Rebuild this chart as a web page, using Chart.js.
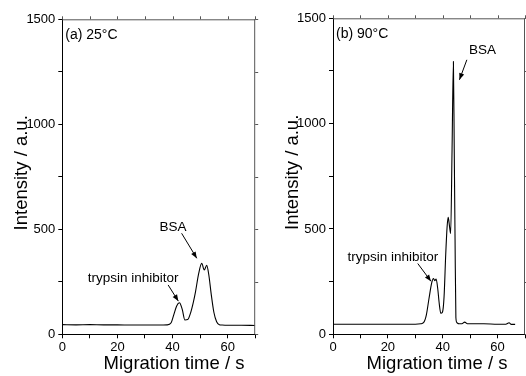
<!DOCTYPE html>
<html>
<head>
<meta charset="utf-8">
<script src="https://cdn.jsdelivr.net/npm/chart.js@4/dist/chart.umd.min.js"></script>
<style>
html,body{margin:0;padding:0;background:#fff;}
#wrap{position:relative;width:526px;height:376px;overflow:hidden;}
.c{position:absolute;top:0;width:263px;height:376px;}
#c1{left:0;} #c2{left:263px;}
</style>
</head>
<body>
<div id="wrap">
<div class="c" id="c1"><canvas id="cv1" width="263" height="376"></canvas></div>
<div class="c" id="c2"><canvas id="cv2" width="263" height="376"></canvas></div>
</div>
<script>
// ---- data ----
const time25 = [0, 5, 10, 15, 20, 25, 30, 35, 38, 39.5, 40.5, 41.5, 42.5, 43.5, 44.5, 45.5, 46.5, 47.5, 48.3, 49.5, 50.6, 51.5, 52.4, 53.2, 54, 55, 56, 57, 58, 60, 65, 70];
const int25  = [46, 45, 46, 45, 45, 44, 44, 44, 45, 55, 95, 135, 150, 120, 68, 70, 100, 150, 200, 290, 338, 306, 328, 280, 195, 105, 60, 46, 44, 43, 43, 42];

const time90 = [0, 5, 10, 15, 20, 25, 30, 32, 33, 34, 35, 36, 36.6, 37.1, 37.6, 38.2, 38.7, 39.3, 39.9, 40.5, 41.1, 41.6, 42.0, 42.5, 42.9, 43.4, 43.9, 44.2, 44.5, 44.8, 45.2, 46, 47, 48, 49, 50, 55, 60, 63, 64.2, 65, 66.4];
const int90  = [48, 48, 48, 48, 48, 48, 48, 50, 55, 90, 170, 245, 265, 255, 262, 215, 150, 100, 105, 180, 380, 510, 555, 510, 478, 870, 1295, 880, 450, 80, 55, 50, 50, 58, 50, 50, 50, 48, 48, 55, 47, 47];

const xTicks = [0, 20, 40, 60];
const yTicks = [0, 500, 1000, 1500];
const xTitle = 'Migration time / s';
const yTitle = 'Intensity / a.u.';

const FONT = '"Liberation Sans", Arial, sans-serif';

function framePlugin(opts){
  return {
    id:'frame'+opts.id,
    afterDraw(chart){
      const ctx = chart.ctx, a = chart.chartArea;
      const xs = chart.scales.x, ys = chart.scales.y;
      ctx.save();
      ctx.strokeStyle = '#555';
      ctx.lineWidth = 1;
      ctx.beginPath();
      ctx.moveTo(a.left, a.top+0.5); ctx.lineTo(a.right, a.top+0.5);
      ctx.moveTo(a.right-0.5, a.top); ctx.lineTo(a.right-0.5, a.bottom);
      ctx.stroke();
      ctx.beginPath();
      for (let v=0; v<=70; v+=10){
        const px = Math.round(xs.getPixelForValue(v))+0.5;
        ctx.moveTo(px, a.top); ctx.lineTo(px, a.top-3);
      }
      for (let v=0; v<=1500; v+=250){
        const py = Math.round(ys.getPixelForValue(v))+0.5;
        ctx.moveTo(a.right, py); ctx.lineTo(a.right+3, py);
      }
      ctx.stroke();
      ctx.fillStyle = '#000';
      ctx.font = '18.5px ' + FONT;
      ctx.textAlign = 'center';
      ctx.textBaseline = 'alphabetic';
      ctx.fillText(xTitle, 174, 369);
      ctx.save();
      ctx.translate(a.left - 42 + 7, (a.top + a.bottom)/2 - 4);
      ctx.rotate(-Math.PI/2);
      ctx.fillText(yTitle, 0, 0);
      ctx.restore();
      ctx.textAlign = 'left';
      ctx.textBaseline = 'middle';
      ctx.font = '14px ' + FONT;
      ctx.fillText(opts.panel, a.left + 3, a.top + 16);
      ctx.font = '13.5px ' + FONT;
      ctx.textAlign = 'center';
      for (const t of opts.texts){
        ctx.fillText(t.s, xs.getPixelForValue(t.x), ys.getPixelForValue(t.y));
      }
      ctx.strokeStyle = '#000';
      ctx.lineWidth = 1;
      for (const ar of opts.arrows){
        const x1 = xs.getPixelForValue(ar.x1), y1 = ys.getPixelForValue(ar.y1);
        const x2 = xs.getPixelForValue(ar.x2), y2 = ys.getPixelForValue(ar.y2);
        ctx.beginPath(); ctx.moveTo(x1,y1); ctx.lineTo(x2,y2); ctx.stroke();
        const ang = Math.atan2(y2-y1, x2-x1), L = 7, W = 0.38;
        ctx.beginPath();
        ctx.moveTo(x2,y2);
        ctx.lineTo(x2 - L*Math.cos(ang-W), y2 - L*Math.sin(ang-W));
        ctx.lineTo(x2 - L*Math.cos(ang+W), y2 - L*Math.sin(ang+W));
        ctx.closePath(); ctx.fill();
      }
      ctx.restore();
    }
  };
}

function makeChart(id, xs, ys, yAxisWidth, padTop, padRight, opts){
  const pts = xs.map((x,i)=>({x:x, y:ys[i]}));
  return new Chart(document.getElementById(id), {
    type:'line',
    data:{datasets:[{data:pts, borderColor:'#000', borderWidth:1.1, pointRadius:0, cubicInterpolationMode:'monotone', fill:false}]},
    options:{
      responsive:false, animation:false,
      layout:{padding:{top:padTop, right:padRight, left:0, bottom:0}},
      plugins:{legend:{display:false}, tooltip:{enabled:false}},
      scales:{
        x:{type:'linear', min:0, max:70,
          afterFit(s){ s.height = 376 - 334.3; },
          border:{display:true, color:'#000', width:1},
          grid:{display:true, drawOnChartArea:false, drawTicks:true, tickLength:4, color:'#000'},
          ticks:{stepSize:10, padding:1, color:'#000', font:{family:FONT, size:13}, maxRotation:0,
            callback:(v)=> xTicks.includes(v) ? String(v) : ''}
        },
        y:{type:'linear', min:0, max:1500,
          afterFit(s){ s.width = yAxisWidth; },
          border:{display:true, color:'#000', width:1},
          grid:{display:true, drawOnChartArea:false, drawTicks:true, tickLength:4, color:'#000'},
          ticks:{stepSize:250, padding:3, color:'#000', font:{family:FONT, size:13},
            callback:(v)=> yTicks.includes(v) ? String(v) : ''}
        }
      }
    },
    plugins:[framePlugin(opts)]
  });
}

makeChart('cv1', time25, int25, 62.3, 19.3, 7.8, {
  id:1, panel:'(a) 25\u00B0C',
  texts:[{s:'BSA', x:40.2, y:511}, {s:'trypsin inhibitor', x:25.7, y:268}],
  arrows:[{x1:43.3, y1:481, x2:48.8, y2:362}, {x1:38.4, y1:235, x2:42.1, y2:158}]
});
makeChart('cv2', time90, int90, 70, 18.3, 0.5, {
  id:2, panel:'(b) 90\u00B0C',
  texts:[{s:'BSA', x:54.5, y:1350}, {s:'trypsin inhibitor', x:21.8, y:367}],
  arrows:[{x1:48.8, y1:1303, x2:46.1, y2:1208}, {x1:30.9, y1:336, x2:35.7, y2:252}]
});
</script>
</body>
</html>
